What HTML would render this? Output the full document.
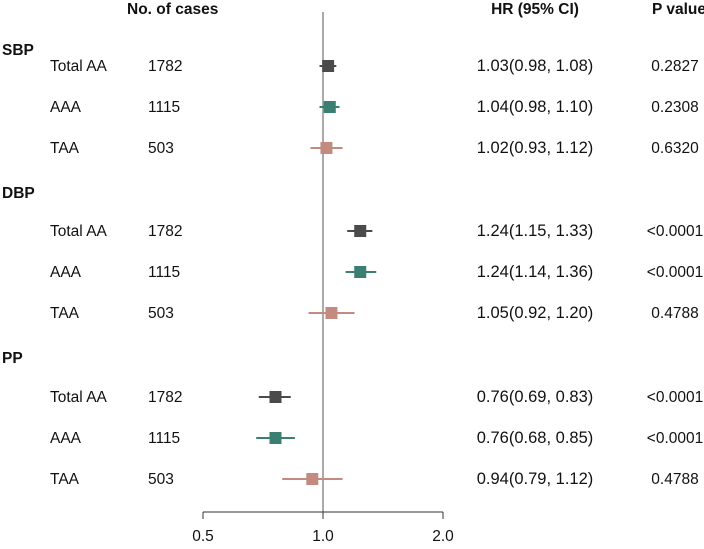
<!DOCTYPE html>
<html><head><meta charset="utf-8"><style>
body{margin:0;background:#fff;}
svg text{font-family:"Liberation Sans",Arial,sans-serif;font-size:15.5px;fill:#111;}
.b{font-weight:bold;}
.hr{font-size:16.5px;}
</style></head><body>
<svg id="c" width="704" height="544">
<text x="127" y="14" class="b">No. of cases</text>
<text x="535" y="14" class="b" text-anchor="middle">HR (95% CI)</text>
<text x="679" y="14" class="b" text-anchor="middle">P value</text>
<g id="g"></g>
</svg>
<script>
const groups=["SBP","DBP","PP"];
const groupY=[49,192,357];
const subgroups=["Total AA","AAA","TAA"];
const cases=["1782","1115","503"];
const hr=[1.03,1.04,1.02,1.24,1.24,1.05,0.76,0.76,0.94];
const lo=[0.98,0.98,0.93,1.15,1.14,0.92,0.69,0.68,0.79];
const hi=[1.08,1.10,1.12,1.33,1.36,1.20,0.83,0.85,1.12];
const pvals=["0.2827","0.2308","0.6320","<0.0001","<0.0001","0.4788","<0.0001","<0.0001","0.4788"];
const ticks=[0.5,1.0,2.0];
const tickLabels=["0.5","1.0","2.0"];
const rowY=[66,107,148,231,272,313,397,438,479];
const colors=["#4b4b4b","#3b7e72","#c38b80"];
const NS="http://www.w3.org/2000/svg";
const g=document.getElementById('g');
function x(v){return 323+120*Math.log2(v);}
function mk(t,a,txt){const e=document.createElementNS(NS,t);for(const k in a)e.setAttribute(k,a[k]);if(txt!==undefined)e.textContent=txt;g.appendChild(e);return e;}
let e=mk('line',{x1:x(1),x2:x(1),y1:12,y2:512,stroke:'#555','stroke-width':1});


e=mk('line',{x1:x(0.5),x2:x(2),y1:512,y2:512,stroke:'#333','stroke-width':1});


ticks.forEach((t,i)=>{
 e=mk('line',{x1:x(t),x2:x(t),y1:512,y2:519,stroke:'#333'});
 
 
 e=mk('text',{x:x(t),y:541,'text-anchor':'middle'},tickLabels[i]);
 
 
});
groups.forEach((gr,i)=>{
 e=mk('text',{x:2,y:groupY[i]+6,class:'b'},gr);
 
 
});
hr.forEach((h,i)=>{
 const y=rowY[i],c=colors[i%3];
 e=mk('text',{x:50,y:y+5},subgroups[i%3]);
 
 
 e=mk('text',{x:148,y:y+5},cases[i%3]);
 
 
 e=mk('line',{x1:x(lo[i]),x2:x(hi[i]),y1:y,y2:y,stroke:c,'stroke-width':2});
 
 
 e=mk('rect',{x:x(h)-6,y:y-6,width:12,height:12,fill:c});
 
 
 e=mk('text',{x:535,y:y+5,'text-anchor':'middle',class:'hr'},h.toFixed(2)+"("+lo[i].toFixed(2)+", "+hi[i].toFixed(2)+")");
 
 
 e=mk('text',{x:675,y:y+5,'text-anchor':'middle'},pvals[i]);
 
 
});
</script>
</body></html>
